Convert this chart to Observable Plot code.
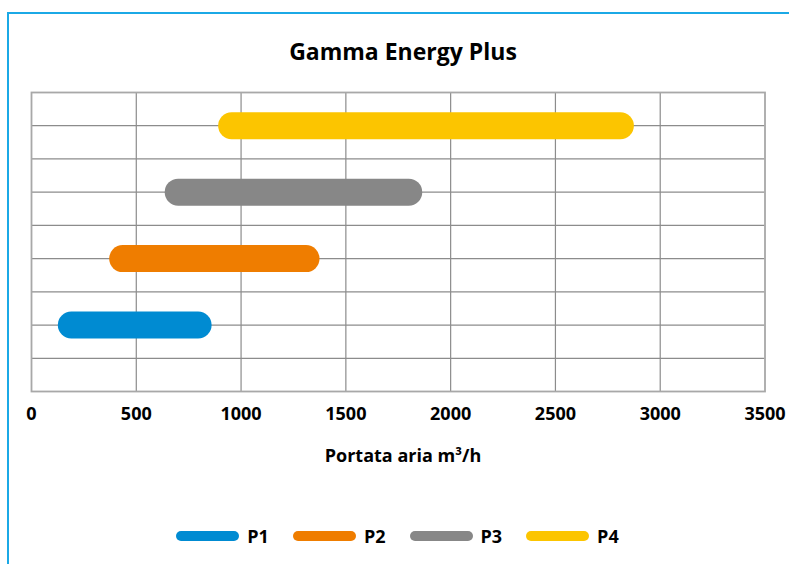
<!DOCTYPE html>
<html>
<head>
<meta charset="utf-8">
<script src="https://cdn.jsdelivr.net/npm/d3@7"></script>
<script src="https://cdn.jsdelivr.net/npm/@observablehq/plot@0.6"></script>
<style>
  html, body { margin: 0; padding: 0; background: #fff; }
  body { width: 789px; height: 564px; overflow: hidden; position: relative; font-family: "Open Sans", sans-serif; font-weight: 700; color: #000; }
  #frame { position: absolute; left: 7px; top: 12px; width: 1000px; height: 1000px; border-left: 2px solid #1ba9e6; border-top: 2px solid #1ba9e6; }
  #title { position: absolute; left: 0; width: 806px; top: 40px; text-align: center; font-size: 23px; line-height: 23px; }
  #chart { position: absolute; left: 0; top: 80px; }
  #xlabel { position: absolute; left: 0; width: 806px; top: 446px; text-align: center; font-size: 18px; line-height: 18px; }
  #legend { position: absolute; left: 3px; width: 789px; top: 527px; display: flex; justify-content: center; align-items: center; font-size: 18px; line-height: 18px; }
  .item { display: flex; align-items: center; margin: 0 12px; }
  .item span { margin-left: 8px; }
</style>
</head>
<body>
<div id="frame"></div>
<div id="title"></div>
<div id="chart"></div>
<div id="xlabel"></div>
<div id="legend"></div>
<script>
const title = "Gamma Energy Plus";
const xTitle = "Portata aria m³/h";
const series = ["P1", "P2", "P3", "P4"];
const rangeStart = [190, 435, 700, 955];
const rangeEnd = [795, 1310, 1800, 2810];
const colors = ["#008bd2", "#ef7d00", "#878787", "#fcc500"];
const xTicks = [0, 500, 1000, 1500, 2000, 2500, 3000, 3500];
const rowLines = d3.range(0, 10);

const rows = series.map((s, i) => ({ name: s, start: rangeStart[i], end: rangeEnd[i], pos: 2 * (i + 1), color: colors[i] }));

document.getElementById("title").textContent = title;
document.getElementById("xlabel").textContent = xTitle;

const chart = Plot.plot({
  width: 789,
  height: 400,
  marginLeft: 31,
  marginRight: 24.5,
  marginTop: 12,
  marginBottom: 89,
  style: { fontFamily: "Open Sans", fontSize: "18px", fontWeight: 700, color: "#000", background: "transparent" },
  x: { domain: [0, 3500] },
  y: { domain: [0, 9], axis: null },
  marks: [
    Plot.ruleX(xTicks.slice(1, -1), { stroke: "#8c8c8c", strokeWidth: 1.2 }),
    Plot.ruleY(rowLines.slice(1, -1), { stroke: "#8c8c8c", strokeWidth: 1.2 }),
    Plot.frame({ stroke: "#a8a8a8", strokeWidth: 1.8 }),
    Plot.link(rows, { x1: "start", x2: "end", y1: "pos", y2: "pos", stroke: "color", strokeWidth: 27, strokeLinecap: "round" }),
    Plot.axisX({ ticks: xTicks, tickSize: 0, tickPadding: 16, tickFormat: d => String(d), label: null, fill: "#000" })
  ]
});
document.getElementById("chart").appendChild(chart);

const legend = document.getElementById("legend");
rows.forEach(r => {
  const item = document.createElement("div");
  item.className = "item";
  const ns = "http://www.w3.org/2000/svg";
  const svg = document.createElementNS(ns, "svg");
  svg.setAttribute("width", 63);
  svg.setAttribute("height", 12);
  const line = document.createElementNS(ns, "line");
  line.setAttribute("x1", 5); line.setAttribute("x2", 58);
  line.setAttribute("y1", 6); line.setAttribute("y2", 6);
  line.setAttribute("stroke", r.color);
  line.setAttribute("stroke-width", 10);
  line.setAttribute("stroke-linecap", "round");
  svg.appendChild(line);
  const span = document.createElement("span");
  span.textContent = r.name;
  item.appendChild(svg);
  item.appendChild(span);
  legend.appendChild(item);
});
</script>
</body>
</html>
